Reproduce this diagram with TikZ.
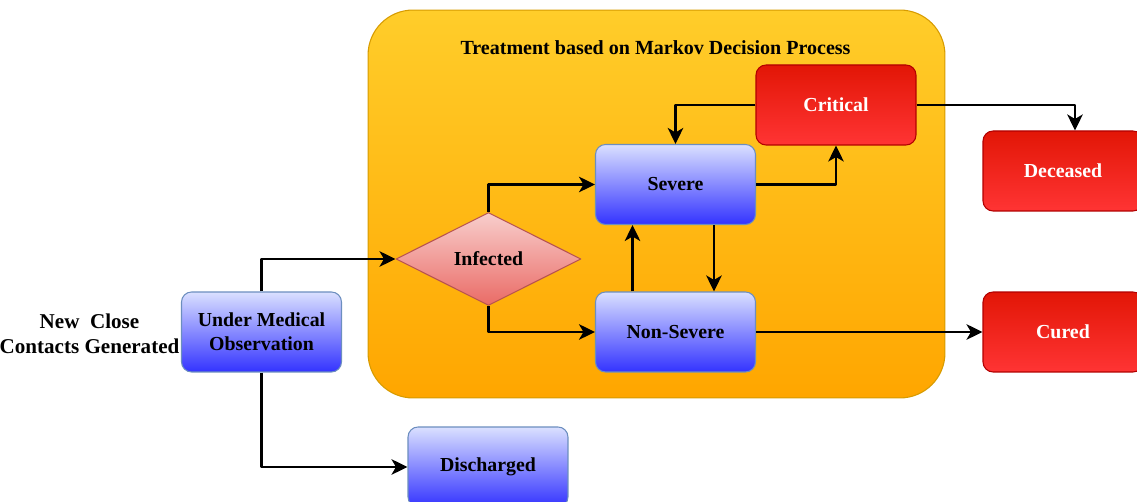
\documentclass[tikz,border=0pt]{standalone}
\usepackage{fontspec}
\setmainfont{Liberation Serif}
\usetikzlibrary{arrows.meta,shapes.geometric}
\definecolor{orgtop}{RGB}{255,205,42}
\definecolor{orgbot}{RGB}{255,166,0}
\definecolor{orgedge}{RGB}{215,155,0}
\definecolor{bluetop}{RGB}{218,224,255}
\definecolor{bluebot}{RGB}{51,51,255}
\definecolor{blueedge}{RGB}{108,142,191}
\definecolor{redtop}{RGB}{226,22,6}
\definecolor{redbot}{RGB}{255,52,52}
\definecolor{rededge}{RGB}{178,0,0}
\definecolor{pinktop}{RGB}{248,206,204}
\definecolor{pinkbot}{RGB}{234,107,102}
\definecolor{pinkedge}{RGB}{184,84,80}
\begin{document}
\begin{tikzpicture}[x=0.02cm, y=-0.02cm, font=\fontsize{11.3}{13.5}\selectfont\bfseries, line join=round,
	>={Stealth[length=3.2mm,width=3.1mm,inset=0.9mm]},
	blubox/.style={draw=blueedge, line width=0.6pt, rounded corners=0.2cm, top color=bluetop, bottom color=bluebot,
		minimum width=3.2cm, minimum height=1.6cm, align=center},
	redbox/.style={draw=rededge, line width=0.6pt, rounded corners=0.2cm, top color=redtop, bottom color=redbot,
		minimum width=3.2cm, minimum height=1.6cm, text=white},
	flow/.style={->, line width=1.5pt}]
	\useasboundingbox (0,0) rectangle (1137,502);
	% container
	\node[draw=orgedge, line width=0.6pt, rounded corners=0.9cm, top color=orgtop, bottom color=orgbot,
		minimum width=11.54cm, minimum height=7.76cm] (mdp) at (656.5,204) {};
	\node[font=\fontsize{11.4}{13}\selectfont\bfseries] (ttl) at (655.5,48) {Treatment based on Markov Decision Process};
	% states
	\node[align=center, font=\fontsize{12}{14.5}\selectfont\bfseries] (ncc) at (89.5,334) {New\ \ Close\\Contacts Generated};
	\node[blubox] (umo) at (261.5,332) {Under Medical\\Observation};
	\node[blubox] (dis) at (488,467) {Discharged};
	\node[draw=pinkedge, line width=0.6pt, diamond, aspect=2, inner sep=0pt, top color=pinktop, bottom color=pinkbot,
		minimum width=3.7cm, minimum height=1.86cm] (inf) at (488.5,259) {Infected};
	\node[blubox] (sev) at (675.5,184.5) {Severe};
	\node[blubox] (nsv) at (675.5,332) {Non-Severe};
	\node[redbox] (cri) at (836,105) {Critical};
	\node[redbox] (dec) at (1063,171) {Deceased};
	\node[redbox] (cur) at (1063,332) {Cured};
	% transitions
	\draw[flow] (umo.north) |- (inf.west);
	\draw[flow] (umo.south) |- (dis.west);
	\draw[flow] (inf.north) |- (sev.west);
	\draw[flow] (inf.south) |- (nsv.west);
	\draw[flow] ([xshift=-0.86cm]nsv.north) -- ([xshift=-0.86cm]sev.south);
	\draw[flow] ([xshift=0.77cm]sev.south) -- ([xshift=0.77cm]nsv.north);
	\draw[flow] (sev.east) -| (cri.south);
	\draw[flow] (cri.west) -| (sev.north);
	\draw[flow] (cri.east) -| ([xshift=0.24cm]dec.north);
	\draw[flow] (nsv.east) -- (cur.west);
\end{tikzpicture}
\end{document}
